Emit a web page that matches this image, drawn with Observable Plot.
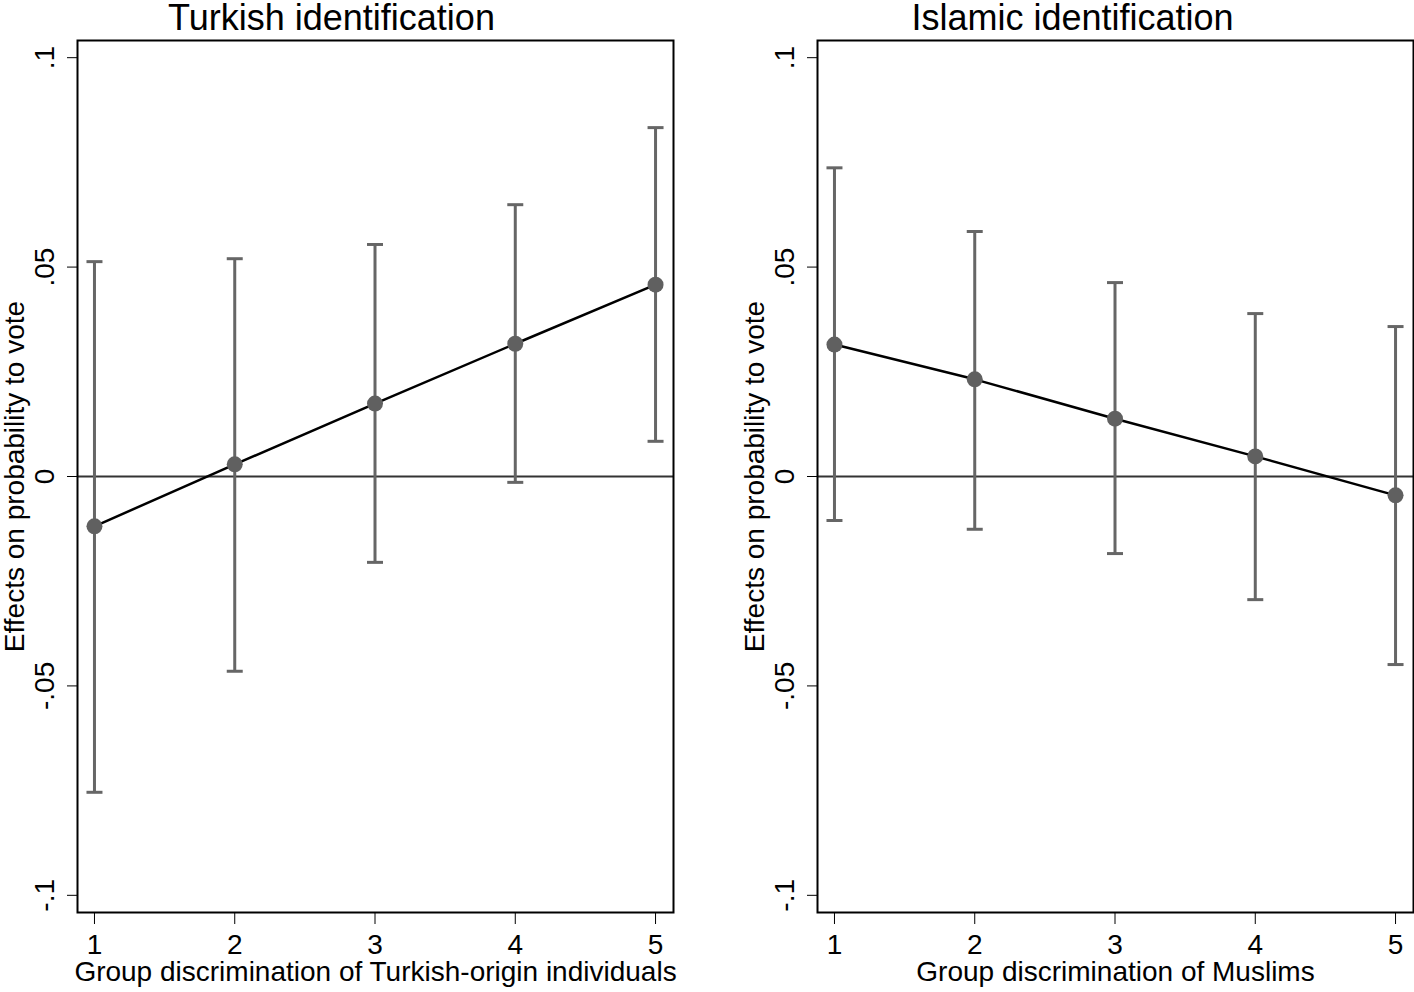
<!DOCTYPE html>
<html><head><meta charset="utf-8">
<script src="https://cdn.jsdelivr.net/npm/d3@7"></script>
<script src="https://cdn.jsdelivr.net/npm/@observablehq/plot@0.6"></script>
<style>
body{margin:0;background:#fff;}
#wrap{position:relative;width:1414px;height:992px;}
.panel{position:absolute;top:0;}
.panel svg{overflow:visible;}
</style></head>
<body><div id="wrap"><div class="panel" id="p2" style="left:740px"></div><div class="panel" id="p1" style="left:0"></div></div>
<script>
const levels = [1, 2, 3, 4, 5];
const turkishEst = [-0.0119, 0.0029, 0.0174, 0.0317, 0.0458];
const turkishLo = [-0.0754, -0.0465, -0.0205, -0.0014, 0.0084];
const turkishHi = [0.0513, 0.0520, 0.0554, 0.0649, 0.0833];
const islamicEst = [0.0315, 0.0232, 0.0138, 0.0048, -0.0045];
const islamicLo = [-0.0105, -0.0126, -0.0184, -0.0294, -0.0449];
const islamicHi = [0.0737, 0.0585, 0.0463, 0.0389, 0.0358];
const yTicks = [-0.1, -0.05, 0, 0.05, 0.1];
const yTickLabels = ["-.1", "-.05", "0", ".05", ".1"];
const titles = ["Turkish identification", "Islamic identification"];
const xLabels = ["Group discrimination of Turkish-origin individuals", "Group discrimination of Muslims"];
const yLabel = "Effects on probability to vote";

function panel(est, lo, hi, title, xlab, width, marginRight, titleDx) {
  const data = levels.map((x, i) => ({x, y: est[i], lo: lo[i], hi: hi[i]}));
  return Plot.plot({
    width, height: 992,
    marginLeft: 77, marginRight, marginTop: 40, marginBottom: 80,
    style: {fontFamily: "'Liberation Sans', Arial, sans-serif", fontSize: "28px", color: "#000", background: "transparent", overflow: "visible"},
    x: {domain: [0.879, 5.128]},
    y: {domain: [-0.1041, 0.1041]},
    marks: [
      Plot.ruleY([0], {stroke: "#333", strokeWidth: 2}),
      Plot.ruleX(data, {x: "x", y1: "lo", y2: "hi", stroke: "#666", strokeWidth: 3}),
      Plot.link(data, {x1: d => d.x - 0.057, x2: d => d.x + 0.057, y1: "lo", y2: "lo", stroke: "#666", strokeWidth: 3}),
      Plot.link(data, {x1: d => d.x - 0.057, x2: d => d.x + 0.057, y1: "hi", y2: "hi", stroke: "#666", strokeWidth: 3}),
      Plot.line(data, {x: "x", y: "y", stroke: "#000", strokeWidth: 2.5}),
      Plot.dot(data, {x: "x", y: "y", r: 8, fill: "#606060", stroke: "none"}),
      Plot.frame({stroke: "#000", strokeWidth: 2}),
      Plot.axisY({ticks: yTicks, tickFormat: d => yTickLabels[yTicks.indexOf(d)], tickSize: 10, tickRotate: -90, tickPadding: 14, label: null, fontSize: 28}),
      Plot.axisX({ticks: levels, tickFormat: d => String(d), tickSize: 12, tickPadding: 10, label: null, fontSize: 28}),
      Plot.text([yLabel], {frameAnchor: "left", dx: -62, rotate: -90, textAnchor: "middle", fontSize: 28, text: d => d}),
      Plot.text([xlab], {frameAnchor: "bottom", dy: 60, lineAnchor: "middle", fontSize: 28, text: d => d}),
      Plot.text([title], {frameAnchor: "top", dy: -11, dx: titleDx, lineAnchor: "bottom", fontSize: 36, text: d => d})
    ]
  });
}
document.getElementById("p1").appendChild(panel(turkishEst, turkishLo, turkishHi, titles[0], xLabels[0], 674, 1, -44));
document.getElementById("p2").appendChild(panel(islamicEst, islamicLo, islamicHi, titles[1], xLabels[1], 674, 1, -43));
</script>
</body></html>
